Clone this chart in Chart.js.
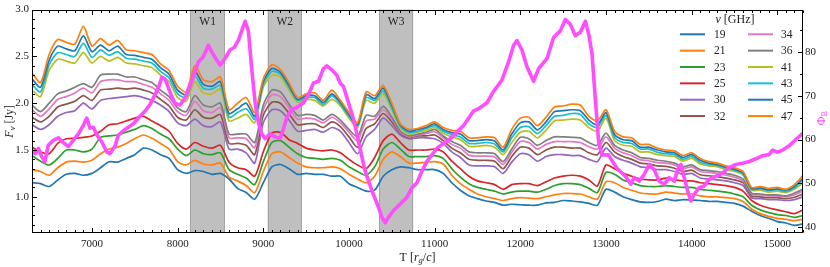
<!DOCTYPE html>
<html><head><meta charset="utf-8">
<script src="https://cdn.jsdelivr.net/npm/chart.js@4.4.0/dist/chart.umd.min.js"></script>
<style>html,body{margin:0;padding:0;background:#fff;}canvas{display:block;}</style>
</head><body>
<canvas id="c" width="830" height="267"></canvas>
<script>
const times = [6300,6400,6500,6600,6700,6800,6900,7000,7100,7200,
7300,7400,7500,7600,7700,7800,7900,8000,8100,8200,
8300,8400,8500,8600,8700,8800,8900,9000,9100,9200,
9300,9400,9500,9600,9700,9800,9900,10000,10100,10200,
10300,10400,10500,10600,10700,10800,10900,11000,11100,11200,
11300,11400,11500,11600,11700,11800,11900,12000,12100,12200,
12300,12400,12500,12600,12700,12800,12900,13000,13100,13200,
13300,13400,13500,13600,13700,13800,13900,14000,14100,14200,
14300,14400,14500,14600,14700,14800,14900,15000,15100,15200,
15300];

const f19 = [1.15,1.14,1.11,1.18,1.24,1.25,1.23,1.25,1.31,1.375,
1.37,1.41,1.45,1.52,1.50,1.45,1.41,1.29,1.25,1.28,
1.27,1.24,1.25,1.19,1.09,1.045,0.975,1.15,1.32,1.345,
1.30,1.24,1.25,1.24,1.24,1.22,1.22,1.14,1.10,1.06,
1.07,1.22,1.29,1.32,1.31,1.29,1.29,1.29,1.25,1.15,
1.07,1.01,0.98,0.955,0.94,0.91,0.92,0.915,0.91,0.91,
0.935,0.94,0.96,0.955,0.945,0.93,0.91,1.08,1.05,1.00,
0.97,0.945,0.94,0.95,0.975,0.96,0.97,0.965,0.96,0.95,
0.95,0.94,0.93,0.90,0.845,0.80,0.77,0.735,0.72,0.695,
0.71];
const f21 = [1.29,1.27,1.23,1.31,1.37,1.38,1.37,1.39,1.46,1.51,
1.53,1.57,1.62,1.66,1.625,1.57,1.51,1.375,1.34,1.39,
1.35,1.34,1.36,1.21,1.17,1.12,1.045,1.27,1.46,1.48,
1.42,1.36,1.32,1.31,1.31,1.32,1.30,1.24,1.19,1.15,
1.22,1.40,1.48,1.43,1.36,1.36,1.37,1.375,1.35,1.23,
1.14,1.08,1.03,1.00,0.98,0.96,0.98,0.99,0.985,0.98,
1.00,1.02,1.035,1.035,1.03,1.00,0.975,1.16,1.15,1.10,
1.07,1.04,1.03,1.03,1.05,1.04,1.03,1.03,1.01,1.00,
1.00,0.99,0.98,0.95,0.87,0.82,0.79,0.77,0.76,0.745,
0.76];
const f23 = [1.44,1.38,1.34,1.41,1.50,1.50,1.48,1.51,1.635,1.65,
1.66,1.69,1.72,1.76,1.73,1.67,1.62,1.51,1.44,1.50,
1.46,1.45,1.47,1.29,1.24,1.20,1.13,1.375,1.58,1.60,
1.53,1.46,1.42,1.41,1.40,1.41,1.39,1.32,1.27,1.23,
1.32,1.51,1.58,1.51,1.43,1.43,1.43,1.44,1.41,1.30,
1.21,1.14,1.10,1.08,1.06,1.03,1.05,1.06,1.06,1.05,
1.08,1.12,1.14,1.14,1.13,1.09,1.045,1.26,1.24,1.18,
1.15,1.12,1.11,1.11,1.12,1.11,1.10,1.10,1.08,1.07,
1.06,1.05,1.03,1.00,0.91,0.86,0.83,0.81,0.80,0.78,
0.80];
const f25 = [1.53,1.48,1.46,1.57,1.62,1.625,1.635,1.65,1.70,1.77,
1.78,1.81,1.84,1.86,1.81,1.76,1.70,1.57,1.51,1.58,
1.54,1.52,1.55,1.37,1.31,1.29,1.22,1.48,1.68,1.69,
1.61,1.57,1.52,1.50,1.49,1.50,1.47,1.40,1.34,1.30,
1.42,1.60,1.67,1.58,1.50,1.50,1.50,1.51,1.48,1.38,
1.30,1.22,1.17,1.15,1.13,1.08,1.13,1.14,1.14,1.12,
1.16,1.20,1.22,1.23,1.22,1.18,1.115,1.34,1.30,1.25,
1.22,1.19,1.18,1.18,1.20,1.18,1.17,1.17,1.15,1.14,
1.13,1.12,1.10,1.06,0.96,0.91,0.88,0.86,0.84,0.82,
0.86];
const f30 = [1.77,1.72,1.77,1.86,1.90,1.92,2.00,1.94,2.03,2.05,
2.06,2.07,2.08,2.06,2.03,1.98,1.91,1.79,1.76,1.83,
1.76,1.75,1.80,1.51,1.51,1.47,1.36,1.79,1.93,1.92,
1.82,1.70,1.71,1.72,1.69,1.74,1.70,1.58,1.46,1.64,
1.72,1.84,1.76,1.66,1.62,1.63,1.63,1.62,1.57,1.48,
1.42,1.34,1.33,1.33,1.32,1.25,1.37,1.46,1.45,1.38,
1.43,1.45,1.45,1.44,1.44,1.40,1.375,1.52,1.43,1.39,
1.36,1.32,1.31,1.29,1.29,1.27,1.24,1.25,1.20,1.19,
1.18,1.17,1.15,1.12,0.99,0.98,0.97,0.97,0.96,0.97,
1.00];
const f32 = [1.85,1.80,1.86,1.96,1.99,2.02,2.08,2.03,2.14,2.15,
2.16,2.15,2.16,2.14,2.11,2.04,1.97,1.85,1.82,1.93,
1.85,1.84,1.88,1.57,1.57,1.55,1.45,1.87,2.01,2.00,
1.89,1.77,1.78,1.78,1.74,1.80,1.75,1.64,1.53,1.73,
1.78,1.89,1.80,1.68,1.63,1.65,1.65,1.66,1.60,1.52,
1.47,1.40,1.39,1.39,1.38,1.30,1.43,1.53,1.52,1.45,
1.50,1.53,1.53,1.52,1.52,1.47,1.45,1.58,1.48,1.43,
1.40,1.36,1.35,1.33,1.325,1.305,1.27,1.285,1.235,1.225,
1.215,1.20,1.18,1.15,1.01,1.00,0.99,0.99,0.98,0.995,
1.03];
const f34 = [1.93,1.86,1.94,2.04,2.07,2.11,2.16,2.11,2.23,2.25,
2.25,2.23,2.23,2.20,2.17,2.10,2.03,1.91,1.87,2.02,
1.92,1.90,1.95,1.63,1.63,1.62,1.525,1.93,2.09,2.07,
1.95,1.83,1.84,1.83,1.79,1.85,1.79,1.69,1.60,1.81,
1.83,1.93,1.83,1.69,1.64,1.66,1.675,1.695,1.63,1.56,
1.52,1.445,1.435,1.435,1.425,1.345,1.475,1.59,1.58,1.51,
1.56,1.59,1.59,1.59,1.58,1.535,1.51,1.64,1.52,1.47,
1.44,1.395,1.385,1.365,1.36,1.34,1.30,1.32,1.27,1.26,
1.25,1.23,1.21,1.17,1.03,1.02,1.01,1.01,1.00,1.02,
1.06];
const f36 = [1.98,1.91,2.00,2.10,2.13,2.17,2.21,2.17,2.30,2.31,
2.31,2.28,2.28,2.25,2.22,2.14,2.07,1.95,1.91,2.08,
1.98,1.96,2.00,1.67,1.67,1.67,1.58,1.98,2.14,2.12,
1.99,1.87,1.88,1.87,1.82,1.88,1.82,1.72,1.64,1.87,
1.86,1.965,1.85,1.70,1.65,1.67,1.69,1.72,1.65,1.59,
1.55,1.48,1.47,1.47,1.46,1.375,1.51,1.635,1.62,1.55,
1.60,1.64,1.64,1.635,1.63,1.58,1.55,1.68,1.55,1.50,
1.47,1.42,1.41,1.39,1.38,1.36,1.32,1.34,1.29,1.28,
1.27,1.25,1.23,1.19,1.04,1.03,1.02,1.02,1.01,1.04,
1.08];
const f41 = [2.14,2.07,2.35,2.47,2.45,2.43,2.54,2.43,2.50,2.45,
2.49,2.43,2.42,2.40,2.38,2.30,2.23,2.06,2.02,2.23,
2.11,2.10,2.15,1.81,1.84,1.88,1.79,2.17,2.30,2.28,
2.14,2.01,2.04,2.03,1.97,2.04,1.97,1.84,1.74,2.03,
2.00,2.10,1.93,1.74,1.67,1.69,1.71,1.74,1.68,1.64,
1.61,1.54,1.54,1.55,1.53,1.45,1.58,1.69,1.70,1.63,
1.71,1.81,1.82,1.83,1.82,1.74,1.70,1.84,1.60,1.55,
1.54,1.48,1.48,1.45,1.44,1.43,1.38,1.41,1.35,1.33,
1.32,1.29,1.27,1.23,1.07,1.07,1.05,1.06,1.045,1.08,
1.15];
const f43 = [2.20,2.12,2.41,2.54,2.52,2.50,2.64,2.49,2.57,2.51,
2.55,2.48,2.47,2.45,2.43,2.34,2.27,2.10,2.06,2.29,
2.16,2.15,2.19,1.85,1.90,1.94,1.83,2.20,2.34,2.31,
2.17,2.03,2.06,2.06,1.99,2.08,1.99,1.86,1.76,2.06,
2.03,2.13,1.95,1.75,1.69,1.70,1.73,1.76,1.70,1.665,
1.64,1.57,1.57,1.58,1.565,1.48,1.63,1.74,1.75,1.675,
1.76,1.86,1.87,1.89,1.88,1.78,1.74,1.87,1.635,1.58,
1.57,1.51,1.51,1.475,1.46,1.45,1.40,1.43,1.37,1.345,
1.335,1.305,1.285,1.245,1.08,1.085,1.065,1.075,1.055,1.095,
1.18];
const f45 = [2.26,2.17,2.46,2.61,2.58,2.56,2.72,2.55,2.62,2.56,
2.61,2.52,2.51,2.49,2.47,2.38,2.31,2.14,2.09,2.34,
2.20,2.18,2.23,1.89,1.94,2.00,1.86,2.23,2.37,2.33,
2.19,2.04,2.08,2.08,2.01,2.10,2.01,1.88,1.77,2.09,
2.05,2.16,1.98,1.77,1.70,1.72,1.74,1.78,1.72,1.685,
1.67,1.60,1.60,1.61,1.595,1.50,1.67,1.79,1.80,1.715,
1.80,1.91,1.92,1.93,1.92,1.82,1.77,1.90,1.665,1.61,
1.60,1.53,1.53,1.50,1.48,1.47,1.42,1.45,1.39,1.36,
1.345,1.315,1.295,1.255,1.09,1.095,1.075,1.085,1.07,1.11,
1.20];
const f47 = [2.32,2.22,2.52,2.68,2.65,2.63,2.82,2.61,2.69,2.62,
2.67,2.57,2.56,2.54,2.52,2.42,2.35,2.18,2.12,2.40,
2.25,2.23,2.28,1.93,2.00,2.06,1.90,2.26,2.41,2.36,
2.22,2.06,2.10,2.11,2.03,2.14,2.03,1.90,1.79,2.12,
2.08,2.19,2.00,1.78,1.72,1.73,1.76,1.80,1.74,1.71,
1.70,1.63,1.63,1.64,1.63,1.53,1.72,1.84,1.85,1.76,
1.85,1.96,1.97,1.99,1.98,1.86,1.81,1.93,1.70,1.64,
1.63,1.56,1.56,1.52,1.50,1.49,1.44,1.47,1.41,1.375,
1.36,1.33,1.31,1.27,1.10,1.11,1.09,1.10,1.08,1.13,
1.23];

const freqLabels = ['19','21','23','25','30','32','34','36','41','43','45','47'];
const freqSeries = [f19,f21,f23,f25,f30,f32,f34,f36,f41,f43,f45,f47];
const freqColors = ['#1f77b4','#ff7f0e','#2ca02c','#d62728','#9467bd','#8c564b',
                    '#e377c2','#7f7f7f','#bcbd22','#17becf','#1f77b4','#ff7f0e'];

const phiT = [6300,6340,6375,6415,6452,6490,6549,6607,6666,6724,6782,6841,6899,6939,6977,7016,7056,7114,7172,7211,
7269,7308,7366,7425,7483,7561,7620,7678,7717,7776,7815,7854,7893,7932,7971,8029,8087,8107,8146,8184,
8242,8300,8359,8398,8457,8496,8554,8613,8660,8710,8760,8788,8826,8866,8905,8943,8983,9021,9080,9138,
9197,9235,9275,9333,9392,9469,9527,9586,9644,9702,9742,9800,9859,9897,9936,9994,10053,10111,10189,10268,
10345,10384,10423,10462,10520,10598,10677,10735,10793,10852,10910,11027,11182,11338,11454,11533,11611,11688,11786,11863,
11922,11961,12020,12078,12155,12214,12312,12389,12467,12525,12584,12642,12701,12759,12798,12837,12876,12914,12954,13028,
13126,13232,13290,13329,13388,13446,13505,13563,13621,13680,13738,13797,13836,13875,13914,13953,13991,14030,14089,14147,
14205,14283,14361,14439,14517,14595,14673,14751,14829,14906,14945,15004,15062,15140,15218,15300];
const phiV = [57.5,56.8,58.0,56.0,55.0,58.7,59.8,60.4,59.3,58.4,59.8,61.3,63.2,64.9,62.6,62.8,61.1,59.5,57.2,56.8,
58.5,61.0,62.0,62.8,63.6,65.3,66.5,68.0,69.5,71.8,74.2,73.8,71.8,69.8,68.2,67.9,69.5,70.6,72.5,74.4,
77.7,78.9,81.5,80.0,78.1,77.0,78.5,80.5,81.0,82.7,85.5,87.0,84.8,75.9,68.4,63.9,61.3,60.2,61.3,60.6,
60.2,62.4,65.1,66.9,67.3,68.4,70.3,72.9,73.3,76.2,76.8,75.9,74.7,72.9,72.1,68.4,64.7,59.5,52.8,48.3,
44.5,42.3,41.0,42.3,43.8,45.3,46.8,49.0,50.1,52.8,55.0,58.0,60.2,63.2,66.5,67.3,68.4,71.0,73.6,77.7,
81.5,82.6,80.4,76.6,73.3,76.2,78.5,83.3,84.8,87.4,86.3,83.7,84.5,87.0,84.1,79.6,69.2,59.5,56.5,56.5,
53.5,51.5,49.8,51.3,50.5,52.0,54.3,53.1,50.5,49.8,51.3,50.5,53.1,54.3,51.3,48.3,46.0,47.5,49.0,49.4,
50.9,51.6,52.4,53.6,54.3,54.6,55.0,55.6,56.3,56.6,57.6,57.1,57.6,58.6,60.0,61.5];

const windowStart = [8150, 9050, 10350];
const windowEnd   = [8550, 9450, 10750];
const windowLabel = ['W1','W2','W3'];

const xTicks = [7000,8000,9000,10000,11000,12000,13000,14000,15000];
const yTicks = [1.0,1.5,2.0,2.5,3.0];
const phiTicks = [40,50,60,70,80];

const FONT = '"Liberation Serif","Times New Roman",serif';
const MAG = '#ff4dff';

function drawRich(ctx, segs, x, y, align) {
  let w = 0;
  segs.forEach(s => { ctx.font = s.font; s.w = ctx.measureText(s.t).width; w += s.w; });
  let cx = align === 'left' ? x : x - w / 2;
  segs.forEach(s => { ctx.font = s.font; ctx.fillText(s.t, cx, y + (s.dy || 0)); cx += s.w; });
}

const bandPlugin = {
  id: 'bands',
  beforeDatasetsDraw(chart) {
    const {ctx, chartArea: a, scales: {x}} = chart;
    ctx.save();
    for (let i = 0; i < windowStart.length; i++) {
      const x0 = x.getPixelForValue(windowStart[i]);
      const x1 = x.getPixelForValue(windowEnd[i]);
      ctx.fillStyle = '#bfbfbf';
      ctx.fillRect(x0, a.top, x1 - x0, a.bottom - a.top);
      ctx.strokeStyle = '#a3a3a3';
      ctx.lineWidth = 1;
      ctx.beginPath();
      ctx.moveTo(Math.round(x0) + 0.5, a.top); ctx.lineTo(Math.round(x0) + 0.5, a.bottom);
      ctx.moveTo(Math.round(x1) - 0.5, a.top); ctx.lineTo(Math.round(x1) - 0.5, a.bottom);
      ctx.stroke();
      ctx.fillStyle = '#222';
      ctx.font = '11.5px ' + FONT;
      ctx.textAlign = 'center';
      ctx.textBaseline = 'middle';
      ctx.fillText(windowLabel[i], (x0 + x1) / 2, a.top + 12);
    }
    ctx.restore();
  }
};

const framePlugin = {
  id: 'frame',
  afterDraw(chart) {
    const {ctx, chartArea: a, scales: {x, y, y2}} = chart;
    ctx.save();
    ctx.strokeStyle = '#000';
    ctx.lineWidth = 1;
    ctx.beginPath();
    const L = Math.round(a.left) + 0.5, R = Math.round(a.right) - 0.5;
    const T = Math.round(a.top) + 0.5, B = Math.round(a.bottom) - 0.5;
    // x ticks (bottom & top), inward
    for (let v = 6400; v <= 15300; v += 100) {
      const major = v % 1000 === 0;
      const len = major ? 4.5 : 2.5;
      const px = Math.round(x.getPixelForValue(v)) + 0.5;
      ctx.moveTo(px, B); ctx.lineTo(px, B - len);
      ctx.moveTo(px, T); ctx.lineTo(px, T + len);
    }
    // left y ticks
    for (let k = 7; k <= 30; k++) {
      const v = k / 10;
      const major = k % 5 === 0;
      const len = major ? 4.5 : 2.5;
      const py = Math.round(y.getPixelForValue(v)) + 0.5;
      ctx.moveTo(L, py); ctx.lineTo(L + len, py);
    }
    // right y ticks
    for (let v = 40; v <= 85; v += 5) {
      const major = v % 10 === 0;
      const len = major ? 4.5 : 2.5;
      const py = Math.round(y2.getPixelForValue(v)) + 0.5;
      ctx.moveTo(R, py); ctx.lineTo(R - len, py);
    }
    ctx.stroke();
    ctx.strokeRect(L, T, R - L, B - T);

    // axis titles
    ctx.fillStyle = '#222';
    ctx.textBaseline = 'middle';
    ctx.textAlign = 'left';
    drawRich(ctx, [
      {t: 'T [', font: '12px ' + FONT},
      {t: 'r', font: 'italic 12px ' + FONT},
      {t: 'g', font: 'italic 8.5px ' + FONT, dy: 3},
      {t: '/', font: '12px ' + FONT},
      {t: 'c', font: 'italic 12px ' + FONT},
      {t: ']', font: '12px ' + FONT}
    ], (a.left + a.right) / 2, 258, 'center');

    ctx.save();
    ctx.translate(10, (a.top + a.bottom) / 2);
    ctx.rotate(-Math.PI / 2);
    drawRich(ctx, [
      {t: 'F', font: 'italic 12px ' + FONT},
      {t: 'ν', font: 'italic 8.5px ' + FONT, dy: 3},
      {t: ' [Jy]', font: '12px ' + FONT}
    ], 0, 0, 'center');
    ctx.restore();

    ctx.save();
    ctx.fillStyle = MAG;
    ctx.translate(822, 118);
    ctx.rotate(-Math.PI / 2);
    drawRich(ctx, [
      {t: 'Φ', font: '12px ' + FONT},
      {t: 'B', font: '8.5px ' + FONT, dy: 3}
    ], 0, 0, 'center');
    ctx.restore();

    // legend
    ctx.fillStyle = '#222';
    drawRich(ctx, [
      {t: 'ν', font: 'italic 12px ' + FONT},
      {t: ' [GHz]', font: '12px ' + FONT}
    ], 735, 20, 'center');
    const rowY0 = 34.3, rowDY = 16.35;
    const cols = [{x0: 680, x1: 705, tx: 714}, {x0: 748, x1: 773, tx: 781}];
    for (let i = 0; i < freqLabels.length; i++) {
      const c = cols[Math.floor(i / 6)];
      const yy = rowY0 + (i % 6) * rowDY;
      ctx.strokeStyle = freqColors[i];
      ctx.lineWidth = 2;
      ctx.beginPath(); ctx.moveTo(c.x0, yy); ctx.lineTo(c.x1, yy); ctx.stroke();
      ctx.fillStyle = '#222';
      ctx.font = '11.5px ' + FONT;
      ctx.textAlign = 'left';
      ctx.fillText(freqLabels[i], c.tx, yy + 0.5);
    }
    ctx.restore();
  }
};

const datasets = [{
  label: 'Φ_B', data: phiT.map((t, i) => ({x: t, y: phiV[i]})), yAxisID: 'y2',
  borderColor: MAG, borderWidth: 3.6, pointRadius: 0, tension: 0, borderJoinStyle: 'round'
}];
for (let i = freqSeries.length - 1; i >= 0; i--) {
  datasets.push({
    label: freqLabels[i], data: times.map((t, k) => ({x: t, y: freqSeries[i][k]})), yAxisID: 'y',
    borderColor: freqColors[i], borderWidth: 1.7, pointRadius: 0, tension: 0.25, borderJoinStyle: 'round'
  });
}

const tickFont = {family: FONT, size: 11};
new Chart(document.getElementById('c'), {
  type: 'line',
  data: {datasets},
  options: {
    responsive: false, animation: false, devicePixelRatio: 1,
    layout: {padding: {top: 5, left: 0, right: 0, bottom: 0}},
    plugins: {legend: {display: false}, tooltip: {enabled: false}},
    events: [],
    scales: {
      x: {type: 'linear', position: 'bottom', min: 6300, max: 15300,
        grid: {display: false, drawTicks: false}, border: {display: false},
        ticks: {font: tickFont, color: '#222', padding: 5, maxRotation: 0, autoSkip: false, callback: v => String(v)},
        afterBuildTicks: s => { s.ticks = xTicks.map(v => ({value: v})); },
        afterFit: s => { s.height = 34; }
      },
      y: {type: 'linear', position: 'left', min: 0.613, max: 3.0,
        grid: {display: false, drawTicks: false}, border: {display: false},
        ticks: {font: tickFont, color: '#222', padding: 3, callback: v => Number(v).toFixed(1)},
        afterBuildTicks: s => { s.ticks = yTicks.map(v => ({value: v})); },
        afterFit: s => { s.width = 32; }
      },
      y2: {type: 'linear', position: 'right', min: 38.66, max: 89.66,
        grid: {display: false, drawTicks: false}, border: {display: false},
        ticks: {font: tickFont, color: '#222', padding: 2, callback: v => String(v)},
        afterBuildTicks: s => { s.ticks = phiTicks.map(v => ({value: v})); },
        afterFit: s => { s.width = 27; }
      }
    }
  },
  plugins: [bandPlugin, framePlugin]
});
</script>
</body></html>
